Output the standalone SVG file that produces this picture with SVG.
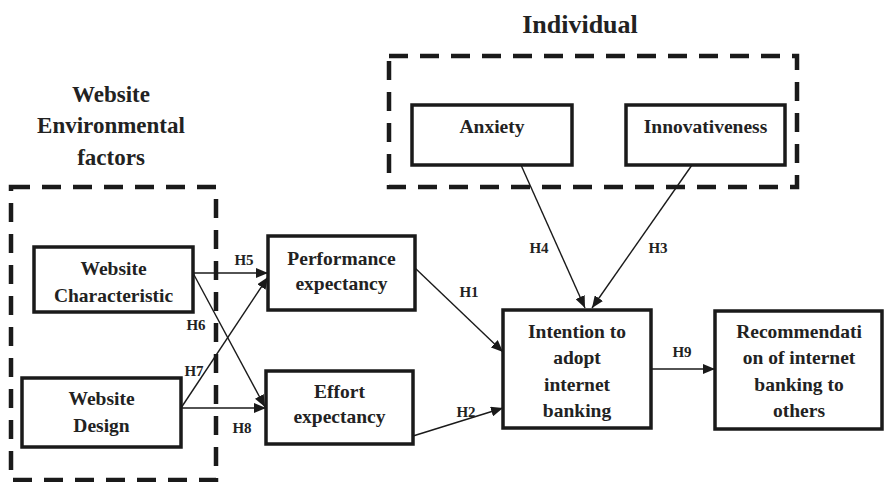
<svg xmlns="http://www.w3.org/2000/svg" width="884" height="482" viewBox="0 0 884 482">
<style>
.box{fill:#fff;stroke:#1a1a1a;stroke-width:3.5}
.grp{fill:none;stroke:#1a1a1a;stroke-width:4.5;stroke-dasharray:19 12}
.t{font-family:"Liberation Serif","Times New Roman",serif;font-weight:bold;font-size:19.5px;fill:#222;text-anchor:middle}
.title{font-family:"Liberation Serif","Times New Roman",serif;font-weight:bold;fill:#222;text-anchor:middle}
.h{font-family:"Liberation Serif","Times New Roman",serif;font-weight:bold;font-size:15px;fill:#222;text-anchor:middle}
.c{fill:none;stroke:#1a1a1a;stroke-width:1.4;marker-end:url(#arr)}
</style>
<defs>
<marker id="arr" viewBox="0 0 12 10" refX="12" refY="5" markerWidth="12" markerHeight="10" markerUnits="userSpaceOnUse" orient="auto">
<path d="M0,0 L12,5 L0,10 Z" fill="#1a1a1a"/>
</marker>
</defs>
<rect width="884" height="482" fill="#fff"/>

<g id="group-website">
<rect class="grp" x="11" y="187" width="205" height="293"/>
<text class="title" font-size="23" x="111" y="102">Website</text>
<text class="title" font-size="23" x="111" y="133">Environmental</text>
<text class="title" font-size="23" x="111" y="165">factors</text>
</g>
<g id="group-individual">
<rect class="grp" x="389" y="56" width="408" height="131"/>
<text class="title" font-size="26" x="580" y="33">Individual</text>
</g>

<g id="connectors">
<line class="c" x1="193" y1="273" x2="268" y2="273"/>
<line class="c" x1="193" y1="273" x2="265" y2="407"/>
<line class="c" x1="181" y1="408" x2="268" y2="277"/>
<line class="c" x1="181" y1="408" x2="266" y2="408"/>
<line class="c" x1="415" y1="268" x2="503" y2="352"/>
<line class="c" x1="413" y1="436" x2="503" y2="408"/>
<line class="c" x1="521" y1="165" x2="585" y2="308"/>
<line class="c" x1="692" y1="165" x2="592" y2="308"/>
<line class="c" x1="651" y1="369" x2="715" y2="369"/>
<text class="h" x="244" y="265">H5</text>
<text class="h" x="196" y="330">H6</text>
<text class="h" x="194" y="376">H7</text>
<text class="h" x="242" y="433">H8</text>
<text class="h" x="469" y="297">H1</text>
<text class="h" x="466" y="417">H2</text>
<text class="h" x="539" y="253">H4</text>
<text class="h" x="658" y="253">H3</text>
<text class="h" x="682" y="357">H9</text>
</g>

<g id="website-characteristic">
<rect class="box" x="34" y="247" width="159" height="65"/>
<text class="t" x="113.5" y="275">Website</text>
<text class="t" x="113.5" y="302">Characteristic</text>
</g>
<g id="website-design">
<rect class="box" x="22" y="378" width="159" height="69"/>
<text class="t" x="101.5" y="405">Website</text>
<text class="t" x="101.5" y="432">Design</text>
</g>
<g id="performance-expectancy">
<rect class="box" x="268" y="236" width="147" height="74"/>
<text class="t" x="341.5" y="265">Performance</text>
<text class="t" x="341.5" y="290">expectancy</text>
</g>
<g id="effort-expectancy">
<rect class="box" x="266" y="371" width="147" height="73"/>
<text class="t" x="339.5" y="398">Effort</text>
<text class="t" x="339.5" y="423">expectancy</text>
</g>
<g id="anxiety">
<rect class="box" x="412" y="105" width="160" height="60"/>
<text class="t" x="492" y="133">Anxiety</text>
</g>
<g id="innovativeness">
<rect class="box" x="626" y="105" width="159" height="60"/>
<text class="t" x="705.5" y="133">Innovativeness</text>
</g>
<g id="intention">
<rect class="box" x="503" y="310" width="148" height="118"/>
<text class="t" x="577" y="338">Intention to</text>
<text class="t" x="577" y="364">adopt</text>
<text class="t" x="577" y="391">internet</text>
<text class="t" x="577" y="417">banking</text>
</g>
<g id="recommendation">
<rect class="box" x="715" y="311" width="167" height="118"/>
<text class="t" x="799" y="338">Recommendati</text>
<text class="t" x="799" y="364">on of internet</text>
<text class="t" x="799" y="391">banking to</text>
<text class="t" x="799" y="417">others</text>
</g>
</svg>
